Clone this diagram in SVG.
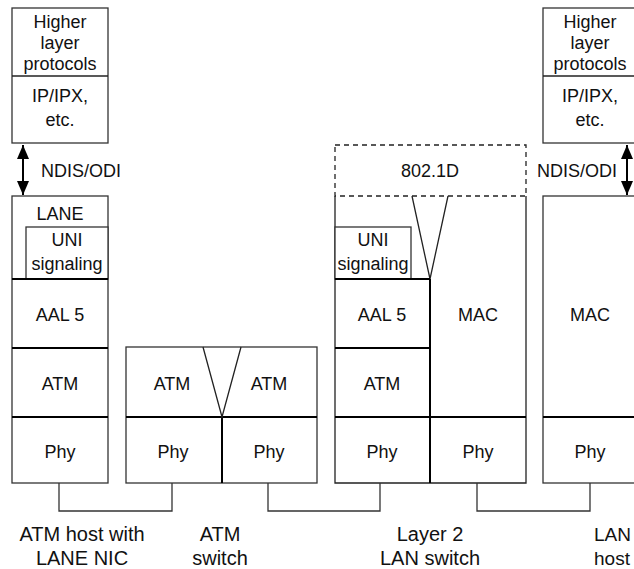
<svg xmlns="http://www.w3.org/2000/svg" width="634" height="569" viewBox="0 0 634 569">
<style>
.box{fill:#fff;stroke:#333;stroke-width:1.3}
.div{fill:none;stroke:#000;stroke-width:2}
.thin{fill:none;stroke:#222;stroke-width:1.3}
.dash{fill:#fff;stroke:#222;stroke-width:1.3;stroke-dasharray:5 4}
.con{fill:none;stroke:#333;stroke-width:1.3}
.arr{fill:none;stroke:#000;stroke-width:2}
text{font-family:"Liberation Sans",Arial,Helvetica,sans-serif;font-size:18px;fill:#111;text-anchor:middle}
.lbl{font-size:20px}
</style>
<defs>
<marker id="ah" viewBox="0 0 14 12" refX="14" refY="6" markerWidth="14" markerHeight="12" orient="auto-start-reverse" markerUnits="userSpaceOnUse">
<path d="M0,0 L14,6 L0,12 z" fill="#000"/>
</marker>
</defs>
<rect width="634" height="569" fill="#fff"/>

<g id="host-left">
<rect class="box" x="12" y="8" width="96" height="135"/>
<line class="thin" x1="12" y1="76" x2="108" y2="76"/>
<text x="60" y="28">Higher</text>
<text x="60" y="49">layer</text>
<text x="60" y="70">protocols</text>
<text x="60" y="102">IP/IPX,</text>
<text x="60" y="126">etc.</text>
<rect class="box" x="12" y="196" width="96" height="287"/>
<text x="60" y="220">LANE</text>
<rect class="box" x="26" y="227" width="82" height="52"/>
<text x="67" y="246">UNI</text>
<text x="67" y="270">signaling</text>
<line class="div" x1="12" y1="279" x2="108" y2="279"/>
<line class="div" x1="12" y1="348" x2="108" y2="348"/>
<line class="div" x1="12" y1="417" x2="108" y2="417"/>
<text x="60" y="321">AAL 5</text>
<text x="60" y="390">ATM</text>
<text x="60" y="458">Phy</text>
<text x="41" y="177" style="text-anchor:start">NDIS/ODI</text>
</g>

<g id="atm-switch">
<rect class="box" x="126" y="347" width="191" height="136"/>
<line class="div" x1="126" y1="417" x2="317" y2="417"/>
<line class="div" x1="222" y1="417" x2="222" y2="483"/>
<polyline class="thin" points="203,347 222,417 241,347"/>
<text x="172" y="390">ATM</text>
<text x="269" y="390">ATM</text>
<text x="173" y="458">Phy</text>
<text x="269" y="458">Phy</text>
</g>

<g id="lan-switch">
<rect class="dash" x="335" y="145" width="191" height="51"/>
<text x="430" y="177">802.1D</text>
<path class="thin" d="M335,196 V483 H526 V196"/>
<rect class="box" x="335" y="227" width="76" height="52"/>
<text x="373" y="246">UNI</text>
<text x="373" y="270">signaling</text>
<polyline class="thin" points="412,196 430,279 448,196"/>
<line class="div" x1="335" y1="279" x2="430" y2="279"/>
<line class="div" x1="335" y1="348" x2="430" y2="348"/>
<line class="div" x1="335" y1="417" x2="526" y2="417"/>
<line class="div" x1="430" y1="279" x2="430" y2="483"/>
<text x="382" y="321">AAL 5</text>
<text x="382" y="390">ATM</text>
<text x="382" y="458">Phy</text>
<text x="478" y="321">MAC</text>
<text x="478" y="458">Phy</text>
</g>

<g id="host-right">
<rect class="box" x="543" y="8" width="97" height="135"/>
<line class="thin" x1="543" y1="76" x2="640" y2="76"/>
<text x="590" y="28">Higher</text>
<text x="590" y="49">layer</text>
<text x="590" y="70">protocols</text>
<text x="590" y="102">IP/IPX,</text>
<text x="590" y="126">etc.</text>
<rect class="box" x="543" y="196" width="97" height="287"/>
<line class="div" x1="543" y1="417" x2="640" y2="417"/>
<text x="590" y="321">MAC</text>
<text x="590" y="458">Phy</text>
<text x="617" y="177" style="text-anchor:end">NDIS/ODI</text>
</g>

<g id="connectors">
<line class="arr" x1="23" y1="145" x2="23" y2="195" marker-start="url(#ah)" marker-end="url(#ah)"/>
<line class="arr" x1="627" y1="145" x2="627" y2="195" marker-start="url(#ah)" marker-end="url(#ah)"/>
<polyline class="con" points="59,483 59,511 172,511 172,483"/>
<polyline class="con" points="268,483 268,511 380,511 380,483"/>
<polyline class="con" points="477,483 477,511 590,511 590,483"/>
</g>

<g id="labels">
<text class="lbl" x="82" y="541">ATM host with</text>
<text class="lbl" x="82" y="565">LANE NIC</text>
<text class="lbl" x="220" y="541">ATM</text>
<text class="lbl" x="220" y="565">switch</text>
<text class="lbl" x="430" y="541">Layer 2</text>
<text class="lbl" x="430" y="565">LAN switch</text>
<text class="lbl" x="594" y="541" style="text-anchor:start;font-size:19px">LAN</text>
<text class="lbl" x="594" y="565" style="text-anchor:start;font-size:19px">host</text>
</g>
</svg>
